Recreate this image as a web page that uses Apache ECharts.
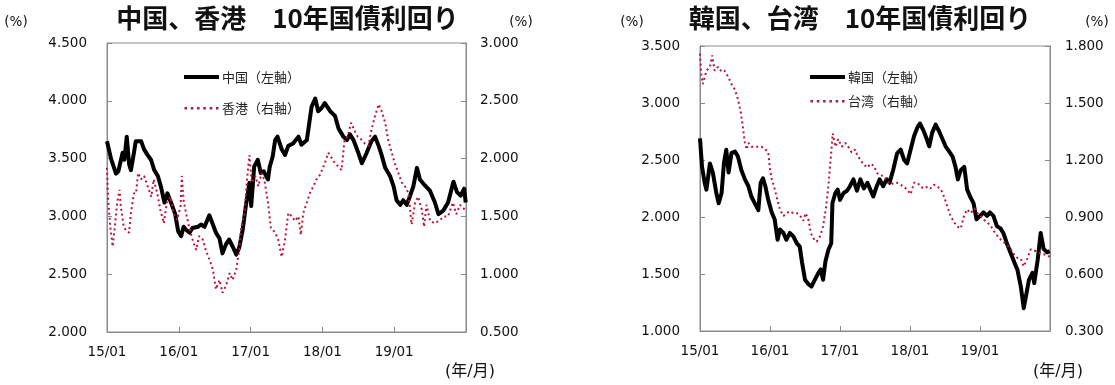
<!DOCTYPE html>
<html>
<head>
<meta charset="utf-8">
<style>
  html, body { margin: 0; padding: 0; background: #fff; }
  #chart { width: 1115px; height: 385px; }
</style>
<script src="https://cdn.jsdelivr.net/npm/echarts/dist/echarts.min.js"></script>
</head>
<body>
<div id="chart"></div>
<script>
// x values are months since 2015/01 (0 = 15/01, 60 = 20/01)
const xTickLabels = ['15/01', '16/01', '17/01', '18/01', '19/01'];

// China 10y yield (left axis, %)
const china = [[0,3.65],[0.67,3.50],[1.5,3.37],[1.9,3.39],[2.6,3.55],[2.9,3.49],[3.3,3.69],[3.7,3.45],[4.0,3.40],[4.5,3.55],[4.8,3.65],[5.7,3.65],[6.2,3.58],[6.8,3.53],[7.35,3.49],[7.9,3.40],[8.5,3.35],[9.0,3.26],[9.6,3.12],[10.1,3.20],[10.7,3.12],[11.4,3.02],[11.9,2.87],[12.4,2.83],[12.8,2.91],[13.3,2.88],[13.8,2.86],[14.3,2.90],[15.2,2.91],[15.7,2.93],[16.3,2.91],[17.1,3.01],[17.7,2.93],[18.2,2.86],[18.8,2.81],[19.3,2.68],[19.9,2.76],[20.4,2.80],[21.0,2.74],[21.6,2.67],[22.1,2.73],[22.7,2.89],[23.2,3.09],[23.8,3.29],[24.1,3.09],[24.6,3.43],[25.2,3.49],[25.7,3.375],[26.2,3.39],[26.9,3.32],[27.2,3.43],[27.7,3.52],[28.1,3.66],[28.5,3.69],[29.2,3.58],[29.75,3.53],[30.3,3.61],[31.1,3.63],[32.0,3.69],[32.5,3.62],[33.4,3.66],[34.2,3.95],[34.8,4.02],[35.3,3.91],[35.9,3.94],[36.4,3.98],[37.3,3.91],[38.1,3.87],[38.7,3.76],[39.5,3.69],[40.1,3.66],[40.6,3.71],[41.2,3.66],[42.0,3.55],[42.6,3.46],[43.4,3.55],[44.2,3.65],[44.8,3.69],[45.4,3.61],[45.9,3.53],[46.5,3.42],[47.3,3.35],[47.9,3.26],[48.4,3.14],[49.0,3.10],[49.5,3.14],[50.1,3.10],[50.6,3.17],[51.2,3.26],[51.8,3.42],[52.3,3.32],[53.1,3.27],[54.0,3.22],[54.8,3.12],[55.4,3.02],[56.2,3.05],[57.0,3.12],[57.9,3.30],[58.5,3.21],[59.1,3.18],[59.7,3.24],[59.95,3.12]];

// Hong Kong 10y yield (right axis, %)
const hongkong = [[0,1.92],[0.2,1.64],[0.55,1.41],[0.95,1.24],[1.3,1.41],[1.7,1.62],[2.1,1.73],[2.3,1.59],[2.8,1.41],[3.3,1.37],[3.7,1.36],[4.0,1.53],[4.5,1.70],[4.85,1.70],[5.2,1.875],[5.7,1.82],[6.2,1.85],[6.8,1.76],[7.4,1.67],[7.8,1.82],[8.4,1.70],[8.9,1.56],[9.5,1.44],[10.0,1.62],[10.6,1.67],[11.1,1.53],[11.7,1.47],[12.3,1.59],[12.5,1.85],[12.8,1.64],[13.2,1.53],[13.8,1.39],[14.3,1.30],[14.9,1.21],[15.4,1.33],[16.0,1.30],[16.5,1.21],[17.1,1.13],[17.7,1.04],[18.2,0.87],[18.8,0.95],[19.3,0.84],[19.9,0.90],[20.5,1.01],[21.0,0.95],[21.6,1.04],[22.1,1.21],[22.4,1.39],[23.0,1.53],[23.4,1.82],[23.8,2.03],[24.2,1.79],[24.8,1.85],[25.3,1.76],[25.8,1.875],[26.3,1.82],[26.9,1.62],[27.4,1.40],[28.1,1.36],[28.6,1.30],[29.2,1.15],[29.75,1.30],[30.3,1.53],[30.9,1.50],[31.4,1.46],[32.0,1.50],[32.4,1.34],[32.8,1.53],[33.4,1.62],[33.9,1.70],[34.5,1.76],[35.0,1.82],[35.6,1.86],[36.4,1.96],[37.0,2.05],[37.6,2.00],[38.1,1.96],[38.7,1.93],[39.2,1.90],[39.7,2.16],[40.2,2.19],[40.8,2.31],[41.3,2.25],[41.9,2.19],[42.6,2.16],[43.1,2.13],[43.7,2.11],[44.2,2.25],[44.8,2.37],[45.4,2.47],[45.9,2.41],[46.5,2.31],[47.0,2.16],[47.6,2.05],[48.1,1.96],[48.7,1.875],[49.3,1.79],[49.8,1.76],[50.4,1.70],[50.9,1.43],[51.5,1.62],[52.0,1.67],[52.6,1.56],[53.0,1.41],[53.4,1.60],[54.0,1.46],[54.8,1.44],[55.7,1.47],[56.3,1.50],[57.0,1.50],[57.8,1.62],[58.4,1.52],[59.0,1.60],[59.95,1.55]];

// Korea 10y yield (left axis, %)
const korea = [[0,2.69],[0.35,2.44],[0.8,2.30],[1.1,2.24],[1.7,2.47],[2.2,2.39],[2.8,2.21],[3.2,2.12],[3.7,2.21],[4.1,2.47],[4.5,2.59],[4.9,2.39],[5.4,2.56],[6.0,2.575],[6.5,2.53],[7.1,2.41],[7.7,2.33],[8.3,2.27],[8.8,2.18],[9.4,2.12],[10.0,2.06],[10.4,2.30],[10.8,2.34],[11.2,2.27],[11.7,2.15],[12.3,2.04],[12.8,1.98],[13.3,1.80],[13.7,1.89],[14.3,1.86],[14.8,1.80],[15.4,1.86],[16.0,1.83],[16.6,1.77],[17.1,1.74],[17.5,1.60],[18.0,1.45],[18.6,1.41],[19.1,1.39],[19.7,1.45],[20.3,1.51],[20.7,1.54],[21.1,1.45],[21.5,1.61],[22.0,1.71],[22.5,1.77],[22.7,2.12],[23.2,2.21],[23.6,2.24],[24.0,2.15],[24.6,2.21],[25.2,2.23],[25.7,2.27],[26.3,2.33],[26.9,2.23],[27.5,2.33],[28.1,2.25],[28.7,2.30],[29.2,2.24],[29.7,2.18],[30.3,2.27],[30.8,2.33],[31.4,2.27],[32.0,2.33],[32.5,2.30],[33.1,2.41],[33.8,2.56],[34.4,2.59],[35.0,2.50],[35.5,2.47],[36.1,2.59],[36.7,2.71],[37.3,2.79],[37.7,2.82],[38.3,2.76],[38.9,2.68],[39.3,2.62],[39.8,2.74],[40.4,2.81],[41.0,2.75],[41.6,2.68],[42.1,2.62],[42.7,2.575],[43.3,2.53],[43.8,2.44],[44.2,2.33],[44.7,2.41],[45.3,2.44],[45.8,2.24],[46.3,2.18],[46.9,2.12],[47.4,1.98],[48.0,2.01],[48.6,2.04],[49.2,2.01],[49.7,2.04],[50.3,2.01],[50.9,1.92],[51.5,1.90],[52.0,1.86],[52.6,1.77],[53.2,1.69],[53.9,1.60],[54.4,1.54],[55.0,1.39],[55.5,1.20],[56.4,1.45],[57.0,1.51],[57.3,1.42],[57.9,1.63],[58.4,1.86],[58.9,1.72],[59.5,1.69],[59.95,1.70]];

// Taiwan 10y yield (right axis, %)
const taiwan = [[0,1.76],[0.2,1.656],[0.5,1.60],[1.1,1.67],[1.7,1.69],[2.1,1.75],[2.5,1.67],[3.1,1.69],[3.7,1.665],[4.2,1.67],[4.8,1.64],[5.4,1.60],[6.0,1.57],[6.5,1.52],[7.0,1.45],[7.4,1.36],[7.7,1.29],[8.0,1.255],[8.3,1.29],[8.8,1.27],[9.4,1.27],[10.0,1.27],[10.5,1.27],[11.1,1.26],[11.7,1.24],[12.0,1.15],[12.3,1.10],[12.7,1.06],[13.1,1.01],[13.7,0.94],[14.3,0.905],[14.8,0.92],[15.4,0.93],[16.0,0.92],[16.6,0.92],[17.1,0.91],[17.7,0.88],[18.1,0.92],[18.6,0.885],[19.0,0.815],[19.6,0.78],[20.0,0.77],[20.6,0.80],[21.1,0.85],[21.6,0.95],[22.0,1.06],[22.5,1.24],[22.75,1.34],[23.2,1.27],[23.7,1.31],[24.3,1.27],[24.9,1.29],[25.4,1.27],[26.0,1.24],[26.6,1.255],[26.9,1.23],[27.5,1.20],[28.1,1.175],[28.7,1.16],[29.2,1.18],[29.8,1.17],[30.4,1.13],[30.9,1.12],[31.5,1.115],[32.1,1.09],[32.7,1.07],[33.2,1.08],[33.8,1.08],[34.4,1.07],[34.9,1.06],[35.5,1.045],[36.1,1.02],[36.7,1.08],[37.3,1.08],[37.8,1.06],[38.4,1.05],[39.0,1.06],[39.5,1.05],[40.1,1.07],[40.7,1.06],[41.3,1.045],[41.8,1.01],[42.4,0.956],[42.9,0.91],[43.6,0.87],[44.1,0.85],[44.7,0.84],[45.3,0.91],[45.8,0.94],[46.4,0.92],[47.0,0.945],[47.6,0.92],[48.1,0.905],[48.7,0.885],[49.3,0.87],[49.9,0.85],[50.4,0.825],[51.0,0.80],[51.6,0.78],[52.2,0.764],[52.7,0.75],[53.3,0.73],[53.9,0.70],[54.4,0.685],[55.0,0.68],[55.5,0.64],[56.1,0.68],[56.7,0.73],[57.6,0.72],[58.6,0.705],[59.5,0.70],[59.95,0.69]];

const LABEL_FONT = 'DejaVu Sans';
const CJK_FONT = 'Noto Sans CJK JP';
const AXIS_COLOR = '#8a8a8a';
const RED = '#b8173c';
const LEGEND_RED = '#9a1f45';

// legend icons (35 x 14 box; tiny specks at the corners keep the box size)
const ICON_SOLID = 'path://M0,0h0.01v0.01h-0.01z M35,14h0.01v0.01h-0.01z M0,5h35v4h-35z';
const ICON_DOTS = 'path://M0,0h0.01v0.01h-0.01z M35,14h0.01v0.01h-0.01z ' +
  'M0.5,6h2.5v2.5h-2.5z M6.8,6h2.5v2.5h-2.5z M13.1,6h2.5v2.5h-2.5z M19.4,6h2.5v2.5h-2.5z M25.7,6h2.5v2.5h-2.5z M32,6h2.5v2.5h-2.5z';

function xAxisCfg(gridIndex) {
  return {
    type: 'value', gridIndex: gridIndex, min: 0, max: 60, interval: 12,
    axisLine: { show: true, lineStyle: { color: AXIS_COLOR, width: 1 } },
    axisTick: { show: true, inside: true, length: 5, lineStyle: { color: AXIS_COLOR } },
    splitLine: { show: false },
    axisLabel: {
      margin: 13, fontSize: 13.5, fontFamily: LABEL_FONT, color: '#111',
      formatter: function (v) { const i = Math.round(v / 12); return xTickLabels[i] || ''; }
    }
  };
}
function yAxisCfg(gridIndex, pos, min, max, interval, margin) {
  return {
    type: 'value', gridIndex: gridIndex, position: pos, min: min, max: max, interval: interval,
    axisLine: { show: true, onZero: false, lineStyle: { color: AXIS_COLOR, width: 1 } },
    axisTick: { show: true, inside: true, length: 5, lineStyle: { color: AXIS_COLOR } },
    splitLine: { show: false },
    axisLabel: {
      margin: margin, fontSize: 13.5, fontFamily: LABEL_FONT, color: '#111',
      formatter: function (v) { return v.toFixed(3); }
    }
  };
}
function legendCfg(name, left, top, icon, color) {
  return {
    data: [{ name: name, icon: icon, itemStyle: { color: color, borderWidth: 0 } }],
    left: left, top: top, padding: 0, itemGap: 0,
    itemWidth: 35, itemHeight: 14, selectedMode: false,
    textStyle: { fontSize: 13, fontFamily: CJK_FONT, color: '#222', padding: [0, 0, 0, -2] }
  };
}
function textG(x, y, text, size, bold) {
  return {
    type: 'text', x: x, y: y, silent: true,
    style: {
      text: text, fill: '#111', align: 'center', verticalAlign: 'middle',
      font: (bold ? 'bold ' : '') + size + 'px "' + (bold ? CJK_FONT : LABEL_FONT) + '", "' + CJK_FONT + '"'
    }
  };
}

const chart = echarts.init(document.getElementById('chart'), null, { renderer: 'canvas' });
chart.setOption({
  backgroundColor: '#fff',
  animation: false,
  grid: [
    { left: 107, top: 43, width: 359, height: 289, show: true, borderColor: AXIS_COLOR, borderWidth: 1, backgroundColor: 'transparent' },
    { left: 700, top: 46, width: 350, height: 285, show: true, borderColor: AXIS_COLOR, borderWidth: 1, backgroundColor: 'transparent' }
  ],
  xAxis: [xAxisCfg(0), xAxisCfg(1)],
  yAxis: [
    yAxisCfg(0, 'left', 2.0, 4.5, 0.5, 20),
    yAxisCfg(0, 'right', 0.5, 3.0, 0.5, 14),
    yAxisCfg(1, 'left', 1.0, 3.5, 0.5, 20),
    yAxisCfg(1, 'right', 0.3, 1.8, 0.3, 15)
  ],
  legend: [
    legendCfg('中国（左軸）', 184, 70, ICON_SOLID, '#000'),
    legendCfg('香港（右軸）', 184, 101, ICON_DOTS, LEGEND_RED),
    legendCfg('韓国（左軸）', 810, 70, ICON_SOLID, '#000'),
    legendCfg('台湾（右軸）', 810, 94, ICON_DOTS, LEGEND_RED)
  ],
  series: [
    { name: '中国（左軸）', type: 'line', xAxisIndex: 0, yAxisIndex: 0, data: china, symbol: 'none',
      color: '#000', lineStyle: { color: '#000', width: 4, join: 'round' } },
    { name: '香港（右軸）', type: 'line', xAxisIndex: 0, yAxisIndex: 1, data: hongkong, symbol: 'none',
      color: RED, lineStyle: { color: RED, width: 2, type: [2, 3] } },
    { name: '韓国（左軸）', type: 'line', xAxisIndex: 1, yAxisIndex: 2, data: korea, symbol: 'none',
      color: '#000', lineStyle: { color: '#000', width: 4, join: 'round' } },
    { name: '台湾（右軸）', type: 'line', xAxisIndex: 1, yAxisIndex: 3, data: taiwan, symbol: 'none',
      color: RED, lineStyle: { color: RED, width: 2, type: [2, 3] } }
  ],
  graphic: [
    textG(16, 22, '(%)', 13.5, false),
    textG(521, 22, '(%)', 13.5, false),
    textG(287.5, 18, '中国、香港　10年国債利回り', 26, true),
    textG(470, 372, '(年/月)', 16, false),
    textG(632, 22, '(%)', 13.5, false),
    textG(1097, 22, '(%)', 13.5, false),
    textG(860, 18, '韓国、台湾　10年国債利回り', 26, true),
    textG(1058, 372, '(年/月)', 16, false)
  ]
});
</script>
</body>
</html>
